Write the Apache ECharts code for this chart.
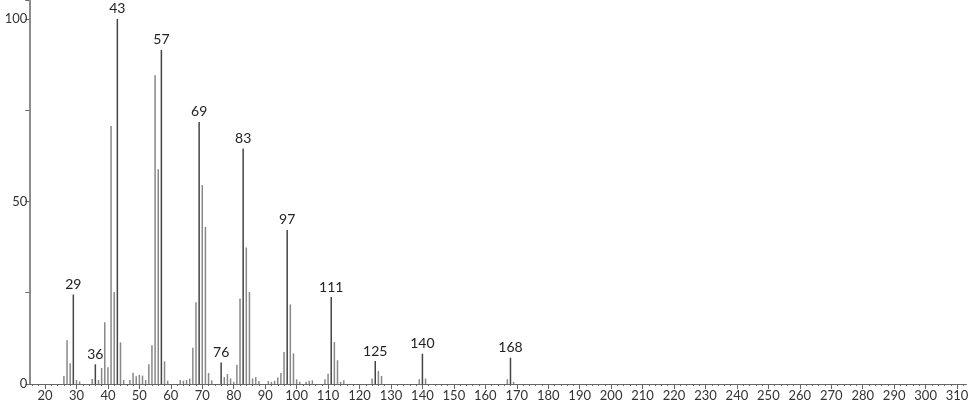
<!DOCTYPE html>
<html>
<head>
<meta charset="utf-8">
<script src="https://cdn.jsdelivr.net/npm/echarts@6/dist/echarts.min.js"></script>
<style>html,body{margin:0;padding:0;background:#fff}#c{width:974px;height:406px}</style>
</head>
<body>
<div id="c"></div>
<script>
const mz = [26,27,28,29,30,31,35,36,37,38,39,40,41,42,43,44,45,47,48,49,50,51,52,53,54,55,56,57,58,59,63,64,65,66,67,68,69,70,71,72,73,76,77,78,79,80,81,82,83,84,85,86,87,88,91,92,93,94,95,96,97,98,99,100,101,103,104,105,109,110,111,112,113,114,115,124,125,126,127,139,140,141,167,168,169];
const intensity = [2.2,12.0,5.7,24.5,1.1,0.7,1.4,5.4,1.1,4.4,16.9,4.6,70.7,25.2,100,11.4,1.1,1.1,3.1,2.1,2.5,2.3,1.1,5.4,10.6,84.6,58.8,91.5,6.2,0.9,1.1,0.9,1.1,1.5,9.9,22.4,71.8,54.5,43.0,3.0,1.0,5.9,1.9,2.7,1.5,0.6,5.3,23.4,64.5,37.4,25.2,1.5,1.9,0.8,0.8,0.6,0.9,1.8,3.0,8.8,42.2,21.8,8.4,1.3,0.6,0.6,0.9,1.0,1.3,2.8,23.8,11.5,6.5,0.6,1.0,1.5,6.3,3.6,2.2,1.3,8.3,1.5,1.3,7.2,0.6];
const labeledPeaks = [29,36,43,57,69,76,83,97,111,125,140,168];
const xTickLabels = [20,30,40,50,60,70,80,90,100,110,120,130,140,150,160,170,180,190,200,210,220,230,240,250,260,270,280,290,300,310];
const yTickLabels = [0,50,100];

const minorTicks = [];
for (let v = 16; v <= 312; v += 2) minorTicks.push(v);

const FONT = 'Lato, "DejaVu Sans", sans-serif';
const data = mz.map((m,i)=>{
  const lab = labeledPeaks.includes(m);
  return {
    value:[m,intensity[i]],
    itemStyle:{color: lab ? '#444' : '#888'},
    label:{show:lab, formatter:String(m), position:'top', distance:3, color:'#222', fontSize:14, fontFamily:FONT}
  };
});

const chart = echarts.init(document.getElementById('c'), null, {renderer:'canvas'});
chart.setOption({
  animation:false,
  backgroundColor:'#fff',
  grid:{left:29.3, right:7.5, top:0.7, bottom:22, containLabel:false},
  xAxis:[{
    type:'value', min:15, max:313,
    axisLine:{show:true, onZero:false, lineStyle:{color:'#666', width:1}},
    axisTick:{show:true, length:5, customValues:xTickLabels, lineStyle:{color:'#666'}},
    axisLabel:{color:'#333', fontSize:13, fontFamily:FONT, margin:5, customValues:xTickLabels},
    splitLine:{show:false}
  },{
    type:'value', min:15, max:313, position:'bottom',
    axisLine:{show:false, onZero:false},
    axisTick:{show:true, length:2, customValues:minorTicks, lineStyle:{color:'#666'}},
    axisLabel:{show:false},
    splitLine:{show:false}
  }],
  yAxis:{
    type:'value', min:0, max:105, interval:25,
    axisLine:{show:true, lineStyle:{color:'#666', width:1.5}},
    axisTick:{show:true, length:4, lineStyle:{color:'#666'}},
    axisLabel:{color:'#333', fontSize:13, fontFamily:FONT, margin:2,
      formatter:v => yTickLabels.includes(v) ? String(v) : ''},
    splitLine:{show:false}
  },
  series:[{
    type:'bar',
    xAxisIndex:0,
    data:data,
    barWidth:1.5,
    barGap:'-100%'
  }]
});
</script>
</body>
</html>
